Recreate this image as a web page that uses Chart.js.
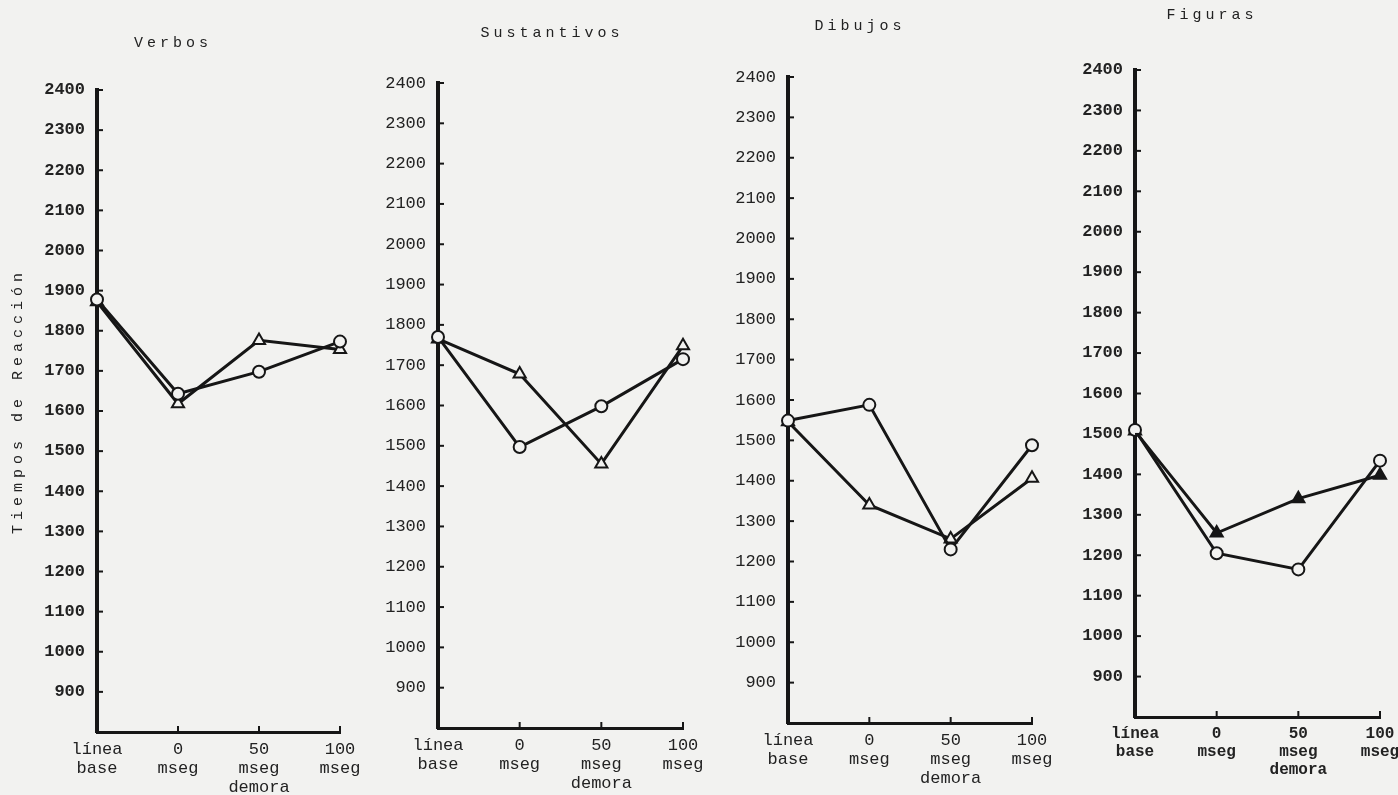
<!DOCTYPE html>
<html><head><meta charset="utf-8">
<script src="https://cdn.jsdelivr.net/npm/chart.js@4.4.0/dist/chart.umd.min.js"></script>
<style>
html,body{margin:0;padding:0;background:#f2f2f0;width:1398px;height:795px;overflow:hidden;}
canvas{position:absolute;top:0;}
</style></head><body>
<script>
// ---- data ----
const categories = [["línea","base"],["0","mseg"],["50","mseg","demora"],["100","mseg"]];
const yTickValues = [900,1000,1100,1200,1300,1400,1500,1600,1700,1800,1900,2000,2100,2200,2300,2400];
const yMin = 800, yMax = 2400;
const panelTitles = ["Verbos","Sustantivos","Dibujos","Figuras"];
const yAxisTitle = "Tiempos de Reacción";

const verbosCirculo    = [1878, 1643, 1698, 1773];
const verbosTriangulo  = [1872, 1618, 1776, 1753];
const sustCirculo      = [1770, 1497, 1598, 1715];
const sustTriangulo    = [1765, 1678, 1455, 1748];
const dibujosCirculo   = [1549, 1588, 1230, 1488];
const dibujosTriangulo = [1546, 1340, 1256, 1406];
const figurasCirculo   = [1510, 1205, 1165, 1434];
const figurasTriangulo = [1507, 1255, 1340, 1398];

const seriesCirculo = [verbosCirculo, sustCirculo, dibujosCirculo, figurasCirculo];
const seriesTriangulo = [verbosTriangulo, sustTriangulo, dibujosTriangulo, figurasTriangulo];

// ---- layout (page pixels) ----
const PAPER = '#f2f2f0', INK = '#161616', TXT = '#222';
const layouts = [
  {axisX: 97,  right: 340,  top: 90, bottom: 732, tdx: 76,  tdy: 47, yTitle: true, yBold: true},
  {axisX: 438, right: 683,  top: 83, bottom: 728, tdx: 114, tdy: 50},
  {axisX: 788, right: 1032, top: 77, bottom: 723, tdx: 72,  tdy: 51},
  {axisX: 1135,right: 1380, top: 70, bottom: 717, tdx: 77,  tdy: 55, bold: true, yBold: true, xSize: 16}
];
const AXW = 97, RPAD = 50, H = 795;

const marksPlugin = {
  id: 'paperMarks',
  afterDraw(chart, args, opts) {
    const ctx = chart.ctx, a = chart.chartArea;
    const ys = chart.scales.y, xs = chart.scales.x;
    ctx.save();
    ctx.strokeStyle = INK; ctx.lineWidth = 2;
    ys.ticks.forEach(t => {
      if (t.value === yMin) return;
      const py = ys.getPixelForValue(t.value);
      ctx.beginPath(); ctx.moveTo(a.left, py); ctx.lineTo(a.left + 6, py); ctx.stroke();
    });
    categories.forEach((c, i) => {
      if (i === 0) return;
      const px = xs.getPixelForValue(i);
      ctx.beginPath(); ctx.moveTo(px, a.bottom); ctx.lineTo(px, a.bottom - 6); ctx.stroke();
    });
    ctx.fillStyle = TXT;
    ctx.font = '15px "Liberation Mono", monospace';
    ctx.letterSpacing = '4px';
    ctx.textAlign = 'center'; ctx.textBaseline = 'middle';
    ctx.fillText(opts.title, a.left + opts.tdx, a.top - opts.tdy);
    if (opts.yTitle) {
      ctx.letterSpacing = '5px';
      ctx.translate(18, (a.top + a.bottom) / 2 - 10);
      ctx.rotate(-Math.PI / 2);
      ctx.fillText(yAxisTitle, 0, 0);
    }
    ctx.restore();
  }
};

layouts.forEach((L, i) => {
  const cv = document.createElement('canvas');
  const left = L.axisX - AXW;
  const w = AXW + (L.right - L.axisX) + RPAD;
  cv.width = w; cv.height = H;
  cv.style.left = left + 'px'; cv.style.width = w + 'px'; cv.style.height = H + 'px';
  document.body.appendChild(cv);
  const xW = L.bold ? 'bold' : 'normal';
  const yW = L.yBold ? 'bold' : 'normal';
  new Chart(cv, {
    type: 'line',
    data: {
      labels: categories,
      datasets: [
        {label: 'Círculos', data: seriesCirculo[i], borderColor: INK, borderWidth: 3,
         pointStyle: 'circle', pointRadius: 6, pointBorderWidth: 2, pointBackgroundColor: PAPER,
         pointBorderColor: INK, tension: 0},
        {label: 'Triángulos', data: seriesTriangulo[i], borderColor: INK, borderWidth: 3,
         pointStyle: 'triangle', pointRadius: 7, pointBorderWidth: 2,
         pointBackgroundColor: L.bold ? INK : PAPER, pointBorderColor: INK, tension: 0}
      ]
    },
    options: {
      responsive: false, animation: false, devicePixelRatio: 1,
      layout: {padding: {left: 0, top: L.top, right: RPAD, bottom: 0}},
      plugins: {legend: {display: false}, tooltip: {enabled: false},
        paperMarks: {title: panelTitles[i], tdx: L.tdx, tdy: L.tdy, yTitle: !!L.yTitle}},
      scales: {
        x: {
          type: 'category', offset: false,
          grid: {display: false, drawTicks: false},
          border: {display: true, color: INK, width: 3},
          ticks: {color: TXT, maxRotation: 0, autoSkip: false, padding: 8,
                  font: {family: '"Liberation Mono", monospace', size: L.xSize || 17, lineHeight: 1.12, weight: xW}},
          afterFit(s) { s.height = H - L.bottom; }
        },
        y: {
          min: yMin, max: yMax,
          grid: {display: false, drawTicks: false},
          border: {display: true, color: INK, width: 4},
          ticks: {stepSize: 100, autoSkip: false, color: TXT, padding: 12,
                  font: {family: '"Liberation Mono", monospace', size: 17, weight: yW},
                  callback: v => yTickValues.includes(v) ? String(v) : ''},
          afterFit(s) { s.width = AXW; }
        }
      }
    },
    plugins: [marksPlugin]
  });
});
</script>
</body></html>
